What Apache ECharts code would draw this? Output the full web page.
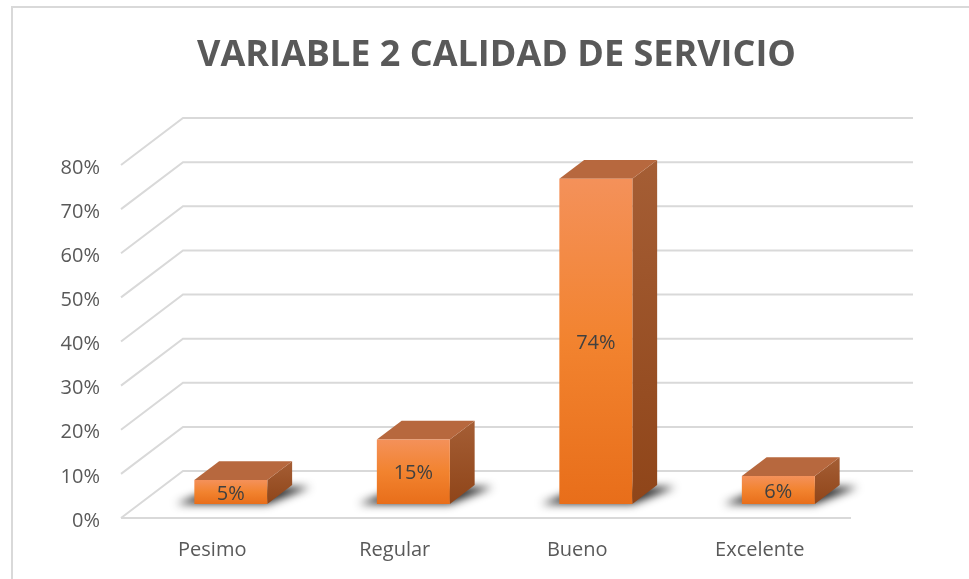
<!DOCTYPE html>
<html>
<head>
<meta charset="utf-8">
<script src="https://cdn.jsdelivr.net/npm/echarts@6/dist/echarts.min.js"></script>
<style>
  html, body { margin: 0; padding: 0; background: #fff; }
  #chart { width: 969px; height: 579px; }
</style>
</head>
<body>
<div id="chart"></div>
<script>
var categories = ['Pesimo', 'Regular', 'Bueno', 'Excelente'];
var percents = [5.4, 14.6, 73.7, 6.3];
var yTicks = [0, 10, 20, 30, 40, 50, 60, 70, 80];

// depth of the 3d box (pixels)
var DX = 62, DY = -47;
var FONT = '"Open Sans", "Liberation Sans", sans-serif';
var OFF = 3000; // shadow drawn off screen, only its blur shows

var chart = echarts.init(document.getElementById('chart'));

function renderGrid(params, api) {
  var cs = params.coordSys;
  var left = cs.x, right = cs.x + cs.width;
  var v = api.value(1);
  var y = api.coord([0, v])[1];
  var style = { stroke: '#D9D9D9', lineWidth: 2, fill: null };
  var children = [{
    type: 'polyline',
    shape: { points: [[left, y], [left + DX, y + DY], [right + DX, y + DY]] },
    style: style
  }];
  if (v === 0) {
    children.push({ type: 'line', shape: { x1: left, y1: y, x2: right, y2: y }, style: style });
  }
  return { type: 'group', children: children };
}

function renderBar(params, api) {
  var idx = api.value(0);
  var val = api.value(1);
  var base = api.coord([idx, 0]);
  var top = api.coord([idx, val]);
  var bw = api.size([1, 0])[0] * 0.4;
  var fx = DX * 0.3, fy = DY * 0.3;
  var bx = DX * 0.4, by = DY * 0.4;
  var x0 = base[0] - bw / 2 + fx, x1 = x0 + bw;
  var yb = base[1] + fy, yt = top[1] + fy;

  var shadowPts = [[x0 - 18, yb], [x1, yb], [x1 + bx + 18, yb + by + 2], [x0 + bx, yb + by + 2]]
    .map(function (p) { return [p[0] - OFF, p[1]]; });

  return {
    type: 'group',
    children: [
      {
        type: 'polygon',
        shape: { points: shadowPts },
        style: { fill: '#000', shadowBlur: 9, shadowOffsetX: OFF, shadowColor: 'rgba(0,0,0,0.85)' }
      },
      {
        type: 'polygon',
        shape: { points: [[x1, yt], [x1 + bx, yt + by], [x1 + bx, yb + by], [x1, yb]] },
        style: {
          fill: { type: 'linear', x: 0, y: 0, x2: 0, y2: 1,
            colorStops: [{ offset: 0, color: '#A55E35' }, { offset: 1, color: '#8F4519' }] }
        }
      },
      {
        type: 'polygon',
        shape: { points: [[x0, yt], [x1, yt], [x1 + bx, yt + by], [x0 + bx, yt + by]] },
        style: { fill: '#B7683E' }
      },
      {
        type: 'rect',
        shape: { x: x0, y: yt, width: bw, height: yb - yt },
        style: {
          fill: { type: 'linear', x: 0, y: 0, x2: 0, y2: 1,
            colorStops: [{ offset: 0, color: '#F4915A' }, { offset: 0.5, color: '#F2832F' }, { offset: 1, color: '#E86E1A' }] }
        }
      },
      {
        type: 'text',
        x: (x0 + x1) / 2,
        y: (yt + yb) / 2 + 2,
        style: {
          text: Math.round(val) + '%',
          fill: '#404040',
          font: '20px ' + FONT,
          textAlign: 'center',
          textVerticalAlign: 'middle'
        }
      }
    ]
  };
}

var option = {
  animation: false,
  title: {
    text: 'VARIABLE 2 CALIDAD DE SERVICIO',
    left: 192,
    top: 33,
    textStyle: { fontFamily: FONT, fontSize: 36, fontWeight: 'bold', color: '#595959' }
  },
  graphic: [{
    type: 'rect',
    shape: { x: 12, y: 7, width: 980, height: 600 },
    style: { fill: null, stroke: '#D9D9D9', lineWidth: 2 }
  }],
  grid: { left: 121, right: 118, top: 165, bottom: 61 },
  xAxis: {
    type: 'category',
    data: categories,
    axisLine: { show: false },
    axisTick: { show: false },
    axisLabel: { fontFamily: FONT, fontSize: 20, color: '#595959', margin: 22 }
  },
  yAxis: {
    type: 'value',
    min: 0,
    max: 80,
    interval: 10,
    splitLine: { show: false },
    axisLine: { show: false },
    axisLabel: { formatter: '{value}%', fontFamily: FONT, fontSize: 20, color: '#595959', margin: 21, verticalAlign: 'top', lineHeight: 20, padding: [-7, 0, 0, 0] }
  },
  series: [
    {
      type: 'custom',
      z: 1,
      silent: true,
      renderItem: renderGrid,
      encode: { x: 0, y: 1 },
      data: yTicks.map(function (t) { return [0, t]; })
    },
    {
      type: 'custom',
      z: 2,
      renderItem: renderBar,
      encode: { x: 0, y: 1 },
      data: percents.map(function (p, i) { return [i, p]; })
    }
  ]
};

chart.setOption(option);
</script>
</body>
</html>
